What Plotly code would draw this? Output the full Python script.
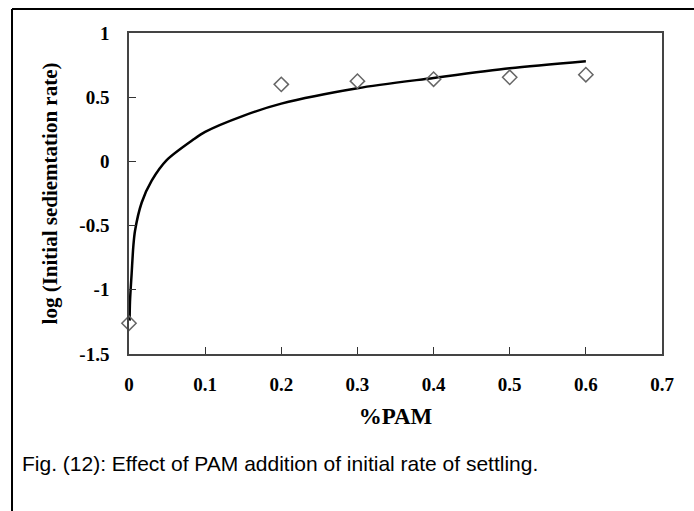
import plotly.graph_objects as go

# Measured settling data
pam_pct = [0.0, 0.2, 0.3, 0.4, 0.5, 0.6]
log_rate = [-1.26, 0.60, 0.625, 0.64, 0.655, 0.675]

# Logarithmic trend line, sampled along its length
trend_x = [0.0008, 0.0013, 0.0035, 0.0057, 0.0079, 0.0167, 0.0298, 0.0495,
           0.0845, 0.1, 0.15, 0.2, 0.3, 0.4, 0.5, 0.6]
trend_y = [-1.24, -1.09, -0.87, -0.66, -0.54, -0.32, -0.15, 0.01,
           0.17, 0.23, 0.355, 0.45, 0.57, 0.65, 0.725, 0.78]

x_ticks = [0, 0.1, 0.2, 0.3, 0.4, 0.5, 0.6, 0.7]
x_tick_text = ["0", "0.1", "0.2", "0.3", "0.4", "0.5", "0.6", "0.7"]
y_ticks = [-1.5, -1, -0.5, 0, 0.5, 1]
y_tick_text = ["-1.5", "-1", "-0.5", "0", "0.5", "1"]

caption = "Fig. (12): Effect of PAM addition of initial rate of settling."

serif = "Liberation Serif, Times New Roman, serif"

fig = go.Figure()
fig.add_trace(go.Scatter(
    x=trend_x, y=trend_y, mode="lines",
    line=dict(color="black", width=2.5, shape="spline", smoothing=0.8),
    hoverinfo="skip", showlegend=False,
))
fig.add_trace(go.Scatter(
    x=pam_pct, y=log_rate, mode="markers", cliponaxis=False,
    marker=dict(symbol="diamond-open", size=11, color="#666666",
                line=dict(width=1.5, color="#666666")),
    showlegend=False,
))

fig.update_xaxes(
    range=[0, 0.7], tickvals=x_ticks,
    ticktext=[f"<b>{t}</b>" for t in x_tick_text],
    ticks="inside", ticklen=7, tickwidth=1.2, tickcolor="#333333",
    ticklabelstandoff=12,
    showline=True, linecolor="#444444", linewidth=1.5, mirror=True,
    showgrid=False, zeroline=False,
    tickfont=dict(family=serif, size=19, color="black"),
    title=dict(text="<b>%PAM</b>", font=dict(family=serif, size=23, color="black"),
               standoff=14),
)
fig.update_yaxes(
    range=[-1.5, 1], tickvals=y_ticks,
    ticktext=[f"<b>{t}</b>" for t in y_tick_text],
    ticks="inside", ticklen=7, tickwidth=1.2, tickcolor="#333333",
    ticklabelstandoff=14,
    showline=True, linecolor="#444444", linewidth=1.5, mirror=True,
    showgrid=False, zeroline=False,
    tickfont=dict(family=serif, size=19, color="black"),
    title=dict(text="<b>log (Initial sediemtation rate)</b>",
               font=dict(family=serif, size=21, color="black"), standoff=16),
)

# Frame around figure and caption (top and left edges in view)
fig.add_shape(type="line", xref="paper", yref="paper",
              x0=-0.2195, x1=1.2, y0=1.0748, y1=1.0748,
              line=dict(color="black", width=2))
fig.add_shape(type="line", xref="paper", yref="paper",
              x0=-0.2195, x1=-0.2195, y0=1.0748, y1=-0.6,
              line=dict(color="black", width=2))

fig.add_annotation(
    text=caption, xref="paper", yref="paper",
    x=-0.2045, y=-0.34, xanchor="left", yanchor="middle", showarrow=False,
    font=dict(family="Liberation Sans, Arial, sans-serif", size=21, color="black"),
)

fig.update_layout(
    width=694, height=511,
    margin=dict(l=129, r=32, t=33, b=157),
    paper_bgcolor="white", plot_bgcolor="white",
)

fig.write_html("out.html")
